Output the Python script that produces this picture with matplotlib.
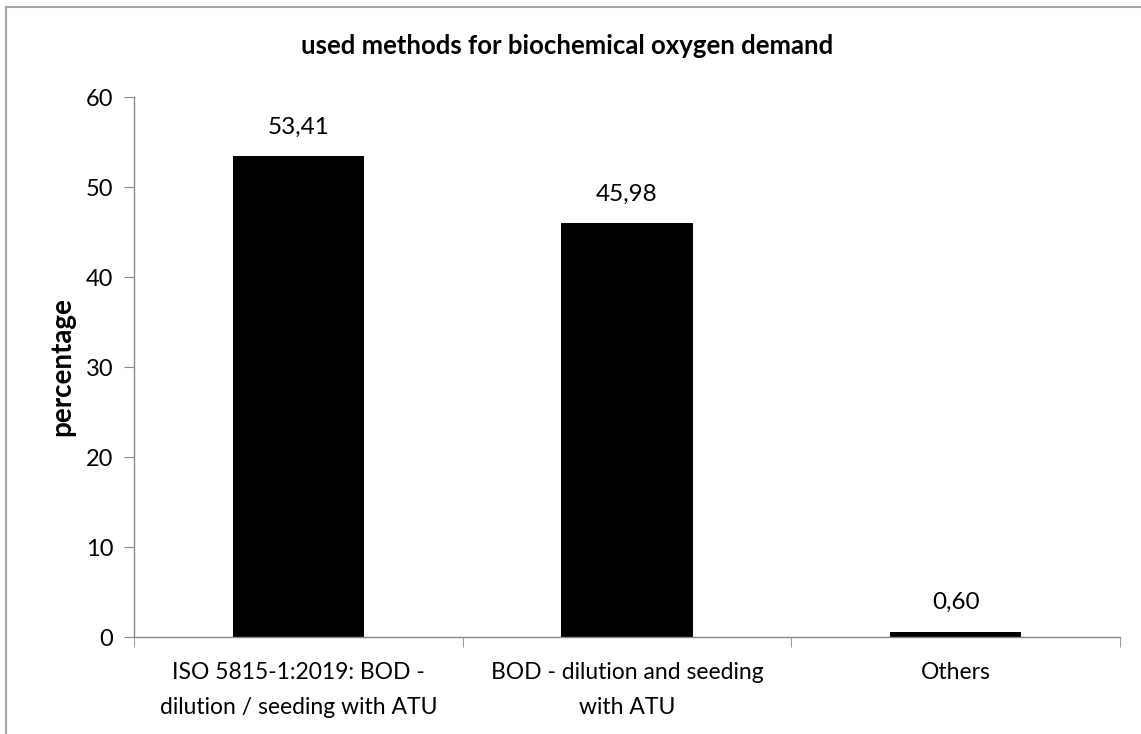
import matplotlib
matplotlib.use("Agg")
import matplotlib.pyplot as plt
from matplotlib.lines import Line2D

categories = ["ISO 5815-1:2019: BOD -\ndilution / seeding with ATU",
              "BOD - dilution and seeding\nwith ATU",
              "Others"]
values = [53.41, 45.98, 0.60]
value_labels = ["53,41", "45,98", "0,60"]
yticks = [0, 10, 20, 30, 40, 50, 60]

plt.rcParams['font.family'] = ['Lato', 'DejaVu Sans']

W, H = 1141, 734
fig = plt.figure(figsize=(W / 100, H / 100), dpi=100)
ax = fig.add_axes([134 / W, 1 - 637 / H, (1120 - 134) / W, (637 - 97) / H])

x = list(range(len(categories)))
ax.bar(x, values, width=0.4, color="black")
ax.set_xlim(-0.5, len(categories) - 0.5)
ax.set_ylim(0, 60)
ax.set_yticks(yticks)
ax.set_yticklabels([str(t) for t in yticks], fontsize=17)
ax.set_xticks(x)
ax.set_xticklabels(categories, fontsize=16.5, linespacing=1.8)
ax.tick_params(axis="x", which="major", length=0, pad=18)
ax.set_xticks([i - 0.5 for i in range(len(categories) + 1)], minor=True)
ax.tick_params(axis="x", which="minor", length=7, color="#888888", direction="out")
ax.tick_params(axis="y", length=7, color="#888888", pad=8)

for s in ["top", "right"]:
    ax.spines[s].set_visible(False)
for s in ["left", "bottom"]:
    ax.spines[s].set_color("#888888")
    ax.spines[s].set_linewidth(1.0)

for xi, v, lab in zip(x, values, value_labels):
    ax.annotate(lab, (xi, v), xytext=(0, 29), textcoords="offset pixels",
                ha="center", va="center", fontsize=17.5)

fig.text(567 / W, 1 - 46 / H, "used methods for biochemical oxygen demand",
         ha="center", va="center", fontsize=18.5, fontweight="bold")
fig.text(62 / W, 1 - 367 / H, "percentage", rotation=90, ha="center", va="center",
         fontsize=20, fontweight="bold")

fig.add_artist(Line2D([5.5 / W, 5.5 / W], [0, 1 - 7 / H], transform=fig.transFigure,
                      color="#a6a6a6", linewidth=1.5))
fig.add_artist(Line2D([5.5 / W, 1], [1 - 7 / H, 1 - 7 / H], transform=fig.transFigure,
                      color="#a6a6a6", linewidth=1.5))

fig.savefig("out.png", dpi=100)
